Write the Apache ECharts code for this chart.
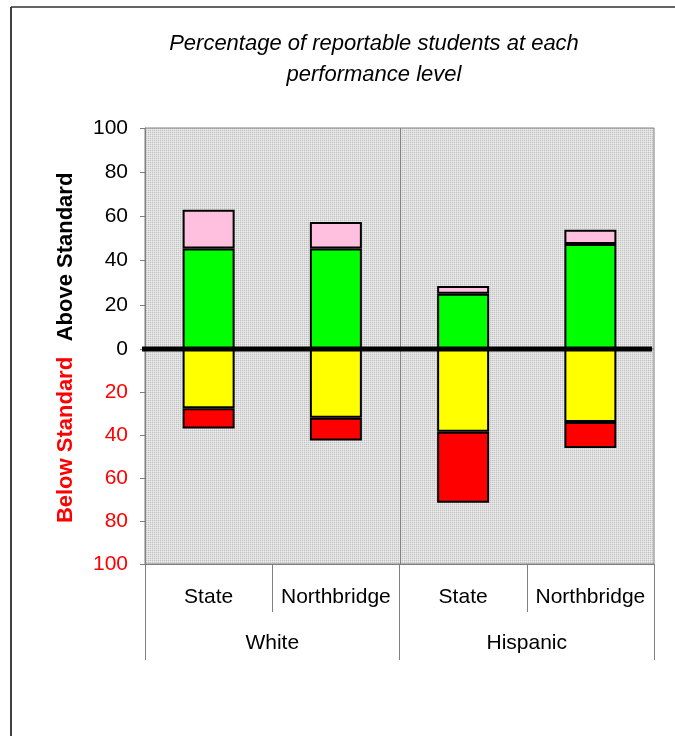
<!DOCTYPE html>
<html>
<head>
<meta charset="utf-8">
<script src="https://cdn.jsdelivr.net/npm/echarts@6/dist/echarts.min.js"></script>
<style>
  html, body { margin: 0; padding: 0; background: #fff; }
  #chart { width: 675px; height: 736px; }
</style>
</head>
<body>
<div id="chart"></div>
<script>
// Student groups and the two sites reported inside each group
const groups = ['White', 'Hispanic'];
const sites = ['State', 'Northbridge'];
const categories = ['White|State', 'White|Northbridge', 'Hispanic|State', 'Hispanic|Northbridge'];

// Percentages above the standard (stacked upward)
const proficient = [45.5, 45.5, 25, 47.5];
const advanced = [17.5, 12, 3.5, 6.5];
// Percentages below the standard (stacked downward)
const needsImprovement = [27.5, 32, 38.5, 34];
const warning = [9.5, 10.5, 33, 12];

// Tick labels of the two half-axes
const upperTicks = [0, 20, 40, 60, 80, 100];
const lowerTicks = [0, 20, 40, 60, 80, 100];

const FONT = '"Liberation Sans", Arial, Helvetica, sans-serif';
const PLOT_L = 145, PLOT_W = 509, PLOT_T = 128, ZERO_Y = 349, PLOT_B = 564;

// Dotted fill for the plot background
function makePattern() {
  const c = document.createElement('canvas');
  c.width = 2; c.height = 2;
  const g = c.getContext('2d');
  g.fillStyle = '#dedede';
  g.fillRect(0, 0, 2, 2);
  g.fillStyle = '#c2c2c2';
  g.fillRect(0, 0, 1, 1);
  g.fillStyle = '#ececec';
  g.fillRect(1, 1, 1, 1);
  return { image: c, repeat: 'repeat' };
}

const chart = echarts.init(document.getElementById('chart'), null, { renderer: 'canvas' });
const barBorder = { borderColor: '#000', borderWidth: 2 };
const BAR_W = 52;

const option = {
  animation: false,
  backgroundColor: '#fff',
  textStyle: { fontFamily: FONT },
  grid: [
    { left: PLOT_L, top: PLOT_T, width: PLOT_W, height: ZERO_Y - PLOT_T,
      show: true, backgroundColor: makePattern(), borderColor: '#808080', borderWidth: 1 },
    { left: PLOT_L, top: ZERO_Y, width: PLOT_W, height: PLOT_B - ZERO_Y,
      show: true, backgroundColor: makePattern(), borderColor: '#808080', borderWidth: 1 }
  ],
  xAxis: [
    { type: 'category', gridIndex: 0, data: categories,
      axisLine: { show: false, onZero: false }, axisTick: { show: false }, axisLabel: { show: false } },
    { type: 'category', gridIndex: 1, data: categories, position: 'bottom',
      axisLine: { show: true, onZero: false, lineStyle: { color: '#808080', width: 1 } },
      axisTick: { show: true, interval: 0, length: 48, lineStyle: { color: '#808080', width: 1 } },
      axisLabel: { show: true, interval: 0, margin: 23, fontSize: 21, color: '#000', fontFamily: FONT,
        formatter: v => v.split('|')[1] } },
    { type: 'category', gridIndex: 1, data: groups, position: 'bottom',
      axisLine: { show: false, onZero: false },
      axisTick: { show: true, interval: 0, length: 96, lineStyle: { color: '#808080', width: 1 } },
      axisLabel: { show: true, interval: 0, margin: 69, fontSize: 21, color: '#000', fontFamily: FONT } }
  ],
  yAxis: [
    { type: 'value', gridIndex: 0, min: 0, max: 100, interval: 20,
      axisLine: { show: true, lineStyle: { color: '#808080', width: 1 } },
      axisTick: { show: true, length: 5, lineStyle: { color: '#808080' } },
      splitLine: { show: false },
      axisLabel: { margin: 17, fontSize: 21, color: '#000', fontFamily: FONT,
        formatter: v => upperTicks.includes(v) ? String(v) : '' } },
    { type: 'value', gridIndex: 1, min: 0, max: 100, interval: 20, inverse: true,
      axisLine: { show: true, lineStyle: { color: '#808080', width: 1 } },
      axisTick: { show: true, length: 5, lineStyle: { color: '#808080' } },
      splitLine: { show: false },
      axisLabel: { margin: 17, fontSize: 21, color: '#ff0000', fontFamily: FONT, showMinLabel: false,
        formatter: v => lowerTicks.includes(v) ? String(v) : '' } }
  ],
  series: [
    { name: 'Proficient', type: 'bar', stack: 'above', xAxisIndex: 0, yAxisIndex: 0,
      barWidth: BAR_W, data: proficient, itemStyle: Object.assign({ color: '#00ff00' }, barBorder) },
    { name: 'Advanced', type: 'bar', stack: 'above', xAxisIndex: 0, yAxisIndex: 0,
      barWidth: BAR_W, data: advanced, itemStyle: Object.assign({ color: '#ffc0e0' }, barBorder) },
    { name: 'Needs Improvement', type: 'bar', stack: 'below', xAxisIndex: 1, yAxisIndex: 1,
      barWidth: BAR_W, data: needsImprovement, itemStyle: Object.assign({ color: '#ffff00' }, barBorder) },
    { name: 'Warning', type: 'bar', stack: 'below', xAxisIndex: 1, yAxisIndex: 1,
      barWidth: BAR_W, data: warning, itemStyle: Object.assign({ color: '#ff0000' }, barBorder) }
  ],
  graphic: [
    // outer frame
    { type: 'line', z: 50, shape: { x1: 11, y1: 7, x2: 11, y2: 740 },
      style: { stroke: '#404040', lineWidth: 2 } },
    { type: 'line', z: 50, shape: { x1: 11, y1: 7, x2: 680, y2: 7 },
      style: { stroke: '#303030', lineWidth: 1.5 } },
    // group divider inside the plot
    { type: 'line', z: 50, shape: { x1: PLOT_L + PLOT_W / 2 + 1, y1: PLOT_T, x2: PLOT_L + PLOT_W / 2 + 1, y2: PLOT_B },
      style: { stroke: '#808080', lineWidth: 1 } },
    // thick zero line
    { type: 'line', z: 60, shape: { x1: 142, y1: ZERO_Y, x2: 652, y2: ZERO_Y },
      style: { stroke: '#000', lineWidth: 5 } },
    // title
    { type: 'text', z: 50, x: 374, y: 44,
      style: { text: 'Percentage of reportable students at each', font: 'italic 22px ' + FONT,
        fill: '#000', align: 'center', verticalAlign: 'middle' } },
    { type: 'text', z: 50, x: 374, y: 75,
      style: { text: 'performance level', font: 'italic 22px ' + FONT,
        fill: '#000', align: 'center', verticalAlign: 'middle' } },
    // vertical axis captions
    { type: 'text', z: 50, x: 66, y: 257, rotation: Math.PI / 2,
      style: { text: 'Above Standard', font: 'bold 22px ' + FONT, fill: '#000',
        align: 'center', verticalAlign: 'middle' } },
    { type: 'text', z: 50, x: 66, y: 440, rotation: Math.PI / 2,
      style: { text: 'Below Standard', font: 'bold 22px ' + FONT, fill: '#ff0000',
        align: 'center', verticalAlign: 'middle' } }
  ]
};

chart.setOption(option);
</script>
</body>
</html>
